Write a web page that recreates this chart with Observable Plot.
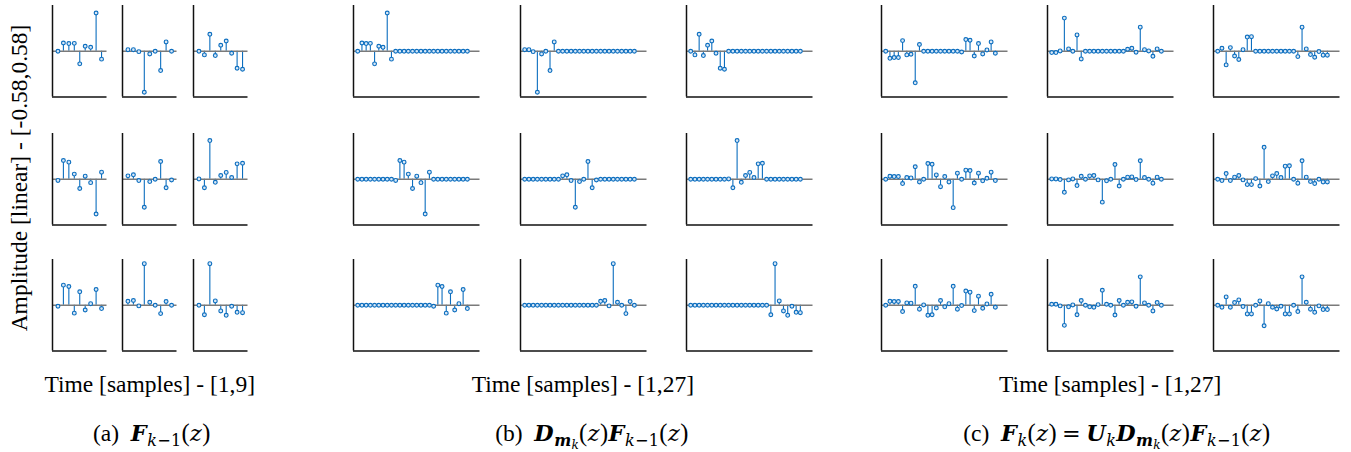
<!DOCTYPE html>
<html><head><meta charset="utf-8">
<script src="https://cdn.jsdelivr.net/npm/d3@7"></script>
<script src="https://cdn.jsdelivr.net/npm/@observablehq/plot@0.6"></script>
<style>
body{margin:0;background:#fff;}
#fig{position:relative;width:1351px;height:452px;overflow:hidden;font-family:"Liberation Serif","Times New Roman",serif;color:#000;}
.cell{position:absolute;}
.lbl{position:absolute;font-size:23.5px;line-height:23.5px;white-space:nowrap;transform:translateX(-50%);}
.ylbl{position:absolute;font-size:23.5px;line-height:23.5px;white-space:nowrap;transform:translate(-50%,-50%) rotate(-90deg);}
.math{font-family:"DejaVu Serif",serif;font-size:22.3px;letter-spacing:0.5px;}
.m{font-weight:bold;font-style:italic;}
.i{font-style:italic;}
.p{font-family:"Liberation Serif",serif;font-size:24.5px;}
.eq{padding:0 5px;}
sub{font-size:72%;vertical-align:-0.3em;line-height:0;letter-spacing:0.3px;}
sub sub{font-size:75%;vertical-align:-0.25em;}
</style></head><body><div id="fig"></div>
<script>
// ---------- data: (a) F_{k-1}(z), 9 samples per cell, [row][col] ----------
const aRow1 = [
  [0, 0.105, 0.097, 0.10, -0.16, 0.063, 0.05, 0.485, -0.10],
  [0.02, 0.02, -0.005, -0.52, -0.034, 0, -0.245, 0.118, 0],
  [0, -0.046, 0.215, -0.055, 0.076, 0.13, -0.025, -0.215, -0.228]
];
const aRow2 = [
  [-0.015, 0.238, 0.217, 0.065, -0.117, 0.039, -0.043, -0.44, 0.09],
  [0.043, 0.056, -0.017, -0.355, -0.03, 0, 0.225, -0.108, -0.01],
  [0.004, -0.108, 0.49, -0.039, 0.048, 0.087, 0.022, 0.195, 0.203]
];
const aRow3 = [
  [-0.013, 0.255, 0.238, -0.10, 0.17, -0.06, 0.02, 0.20, -0.042],
  [0.05, 0.06, -0.008, 0.527, 0.038, 0, -0.106, 0.047, 0],
  [0, -0.12, 0.527, 0.055, -0.072, -0.128, -0.013, -0.09, -0.094]
];
// ---------- data: (b) D_{m_k}(z)F_{k-1}(z), 27 samples ----------
const bRow1 = [
  [0, 0.105, 0.097, 0.10, -0.16, 0.063, 0.05, 0.485, -0.10, 0,0,0,0,0,0,0,0,0, 0,0,0,0,0,0,0,0,0],
  [0.02, 0.02, -0.005, -0.52, -0.034, 0, -0.245, 0.118, 0, 0,0,0,0,0,0,0,0,0, 0,0,0,0,0,0,0,0,0],
  [0, -0.046, 0.215, -0.055, 0.076, 0.13, -0.025, -0.215, -0.228, 0,0,0,0,0,0,0,0,0, 0,0,0,0,0,0,0,0,0]
];
const bRow2 = [
  [0,0,0,0,0,0,0,0,0, -0.015, 0.238, 0.217, 0.065, -0.117, 0.039, -0.043, -0.44, 0.09, 0,0,0,0,0,0,0,0,0],
  [0,0,0,0,0,0,0,0,0, 0.043, 0.056, -0.017, -0.355, -0.03, 0, 0.225, -0.108, -0.01, 0,0,0,0,0,0,0,0,0],
  [0,0,0,0,0,0,0,0,0, 0.004, -0.108, 0.49, -0.039, 0.048, 0.087, 0.022, 0.195, 0.203, 0,0,0,0,0,0,0,0,0]
];
const bRow3 = [
  [0,0,0,0,0,0,0,0,0, 0,0,0,0,0,0,0,0,0, -0.013, 0.255, 0.238, -0.10, 0.17, -0.06, 0.02, 0.20, -0.042],
  [0,0,0,0,0,0,0,0,0, 0,0,0,0,0,0,0,0,0, 0.05, 0.06, -0.008, 0.527, 0.038, 0, -0.106, 0.047, 0],
  [0,0,0,0,0,0,0,0,0, 0,0,0,0,0,0,0,0,0, 0, -0.12, 0.527, 0.055, -0.072, -0.128, -0.013, -0.09, -0.094]
];
// ---------- data: (c) F_k(z), 27 samples ----------
const cRow1 = [
  [0, -0.09, -0.08, -0.08, 0.135, -0.046, -0.038, -0.40, 0.085, 0,0,0,0,0,0,0,0,0, -0.01, 0.148, 0.14, -0.06, 0.097, -0.034, 0.017, 0.118, -0.025],
  [-0.017, -0.017, 0.004, 0.42, 0.03, 0, 0.207, -0.097, 0,0,0,0,0,0,0,0,0,0, 0.025, 0.038, -0.013, 0.305, 0.02, 0.004, -0.063, 0.03, 0],
  [0, 0.038, -0.173, 0.046, -0.06, -0.105, 0.02, 0.18, 0.185, 0,0,0,0,0,0,0,0,0,0, -0.068, 0.305, 0.03, -0.042, -0.076, -0.004, -0.05, -0.05]
];
const cRow2 = [
  [0, 0.038, 0.034, 0.034, -0.055, 0.021, 0.017, 0.158, -0.034, 0, 0.2, 0.19, 0.055, -0.094, 0.034, -0.034, -0.36, 0.077, 0, 0.115, 0.11, -0.047, 0.077, -0.02, 0.013, 0.09, -0.017],
  [0.004, 0.004, -0.004, -0.166, -0.008, 0.004, -0.08, 0.038, 0, 0.043, 0.047, -0.008, -0.29, -0.02, 0, 0.187, -0.085, 0, 0.026, 0.03, -0.004, 0.234, 0.021, 0, -0.05, 0.026, 0],
  [0, -0.017, 0.072, -0.017, 0.026, 0.047, -0.008, -0.068, -0.068, 0.008, -0.085, 0.405, -0.03, 0.043, 0.072, 0.021, 0.166, 0.17, 0, -0.05, 0.234, 0.026, -0.03, -0.055, 0, -0.034, -0.034]
];
const cRow3 = [
  [0, 0.05, 0.047, 0.047, -0.08, 0.03, 0.026, 0.24, -0.05, 0.004, -0.128, -0.12, -0.034, 0.06, -0.02, 0.02, 0.24, -0.05, -0.004, 0.18, 0.166, -0.068, 0.115, -0.038, 0.017, 0.14, -0.025],
  [0.013, 0.013, -0.008, -0.255, -0.02, 0.004, -0.12, 0.06, 0, -0.02, -0.025, 0.008, 0.19, 0.013, 0, -0.124, 0.06, 0, 0.038, 0.043, -0.013, 0.36, 0.03, 0, -0.072, 0.034, 0],
  [0, -0.025, 0.106, -0.025, 0.034, 0.068, -0.017, -0.11, -0.11, 0, 0.055, -0.26, 0.02, -0.025, -0.047, -0.013, -0.11, -0.11, 0, -0.08, 0.36, 0.038, -0.05, -0.09, -0.008, -0.055, -0.055]
];
const yDomain = [-0.58, 0.58];
const yLabel = "Amplitude [linear] - [-0.58,0.58]";
const xLabels = ["Time [samples] - [1,9]", "Time [samples] - [1,27]", "Time [samples] - [1,27]"];

// ---------- layout ----------
const groups = [
  {rows: [aRow1, aRow2, aRow3], cols: [51.7, 122.3, 193.3], w: 54.5},
  {rows: [bRow1, bRow2, bRow3], cols: [353.3, 520, 686], w: 126.5},
  {rows: [cRow1, cRow2, cRow3], cols: [881, 1047, 1213], w: 126.5}
];
const rowTops = [5, 132.5, 258.5];
const cellH = 91.5;
const blue = "#0c6ebf";
const fig = document.getElementById("fig");

function stem(values, left, top, w, h) {
  const n = values.length;
  const data = values.map((v, i) => ({t: i + 1, v}));
  const m = 4;
  const svg = Plot.plot({
    width: w + 2 * m, height: h + 2 * m,
    marginLeft: m, marginRight: m, marginTop: m, marginBottom: m,
    x: {domain: [0, n * 10 / 9], axis: null},
    y: {domain: yDomain, axis: null},
    style: {background: "transparent", overflow: "visible"},
    marks: [
      Plot.ruleX(data, {x: "t", y1: 0, y2: "v", stroke: blue, strokeWidth: 1.1}),
      Plot.ruleY([0], {stroke: "#7a7a7a", strokeWidth: 1.7}),
      Plot.dot(data, {x: "t", y: "v", r: 1.9, stroke: blue, fill: "#d8e8f7", strokeWidth: 1.15}),
      Plot.ruleX([0], {stroke: "#111", strokeWidth: 1.5}),
      Plot.ruleY([yDomain[0]], {stroke: "#111", strokeWidth: 1.5})
    ]
  });
  const d = document.createElement("div");
  d.className = "cell";
  d.style.left = (left - m) + "px";
  d.style.top = (top - m) + "px";
  d.appendChild(svg);
  fig.appendChild(d);
}

groups.forEach(g => {
  g.rows.forEach((row, r) => {
    row.forEach((vals, c) => stem(vals, g.cols[c], rowTops[r], g.w, cellH));
  });
});

function label(html, cx, baseline) {
  const d = document.createElement("div");
  d.className = "lbl";
  d.style.left = cx + "px";
  d.style.top = (baseline - 19.7) + "px";
  d.innerHTML = html;
  fig.appendChild(d);
}
const centers = groups.map(g => (g.cols[0] + g.cols[2] + g.w) / 2);
xLabels.forEach((t, i) => label(t, centers[i], 393));
const Z = '<span class="p">(</span><span class="i">z</span><span class="p">)</span>';
const Fk1 = '<span class="m">F</span><sub><span class="i">k</span>−1</sub>' + Z;
const Dmk = '<span class="m">D</span><sub><span class="m">m</span><sub><span class="i">k</span></sub></sub>' + Z;
const captions = [
  '(a)&nbsp; <span class="math">' + Fk1 + '</span>',
  '(b)&nbsp; <span class="math">' + Dmk + Fk1 + '</span>',
  '(c)&nbsp; <span class="math"><span class="m">F</span><sub><span class="i">k</span></sub>' + Z + '<span class="eq">=</span><span class="m">U</span><sub><span class="i">k</span></sub>' + Dmk + Fk1 + '</span>'
];
const capCenters = [152, 592, 1117];
captions.forEach((t, i) => label(t, capCenters[i], 441));

const yl = document.createElement("div");
yl.className = "ylbl";
yl.style.left = "20px";
yl.style.top = "178px";
yl.textContent = yLabel;
fig.appendChild(yl);
</script>
</body></html>
